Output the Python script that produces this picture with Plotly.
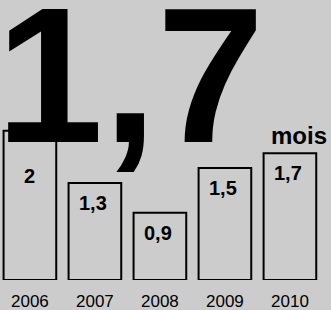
import plotly.graph_objects as go

years = ["2006", "2007", "2008", "2009", "2010"]
values = [2, 1.3, 0.9, 1.5, 1.7]
labels = [f"{v:g}".replace(".", ",") for v in values]
headline = "1,7"
unit = "mois"

BG = "#cccccc"

fig = go.Figure()
fig.add_trace(go.Bar(
    x=years, y=values, width=0.81,
    marker=dict(color=BG, line=dict(color="black", width=2)),
    hoverinfo="skip",
))

annotations = []
for i, (v, lab) in enumerate(zip(values, labels)):
    annotations.append(dict(
        x=i, y=v, xref="x", yref="y", text=f"<b>{lab}</b>", showarrow=False,
        yanchor="middle", xanchor="center", xshift=0 if i == 0 else -2,
        yshift=-45 if i == 0 else -20,
        font=dict(family="Liberation Sans, Arial", size=20, color="black"),
    ))

annotations.append(dict(
    x=0.0, y=1.0, xref="paper", yref="paper", text=f"<b>{headline}</b>", showarrow=False,
    xanchor="left", yanchor="top", xshift=-6, yshift=35,
    font=dict(family="Liberation Sans, Arial", size=193, color="black"),
))
annotations.append(dict(
    x=1.0, y=1.0, xref="paper", yref="paper", text=f"<b>{unit}</b>", showarrow=False,
    xanchor="right", yanchor="top", xshift=-2, yshift=-120,
    font=dict(family="Liberation Sans, Arial", size=24, color="black"),
))

fig.update_layout(
    width=331, height=310,
    margin=dict(l=0, r=0, t=0, b=30, pad=0),
    paper_bgcolor=BG, plot_bgcolor=BG,
    showlegend=False,
    annotations=annotations,
    bargap=0,
)
fig.update_xaxes(
    type="category", range=[-0.46, 4.632], showgrid=False, zeroline=False,
    showline=False, ticks="", ticklabelstandoff=9,
    tickfont=dict(family="Liberation Sans Narrow, Arial Narrow, Liberation Sans", size=17, color="black"),
)
fig.update_yaxes(range=[0, 3.753], visible=False)

fig.write_html(
    "out.html",
    config={"displayModeBar": False, "staticPlot": True},
    post_script="document.body.style.margin='0';document.body.style.background='#cccccc';",
)
